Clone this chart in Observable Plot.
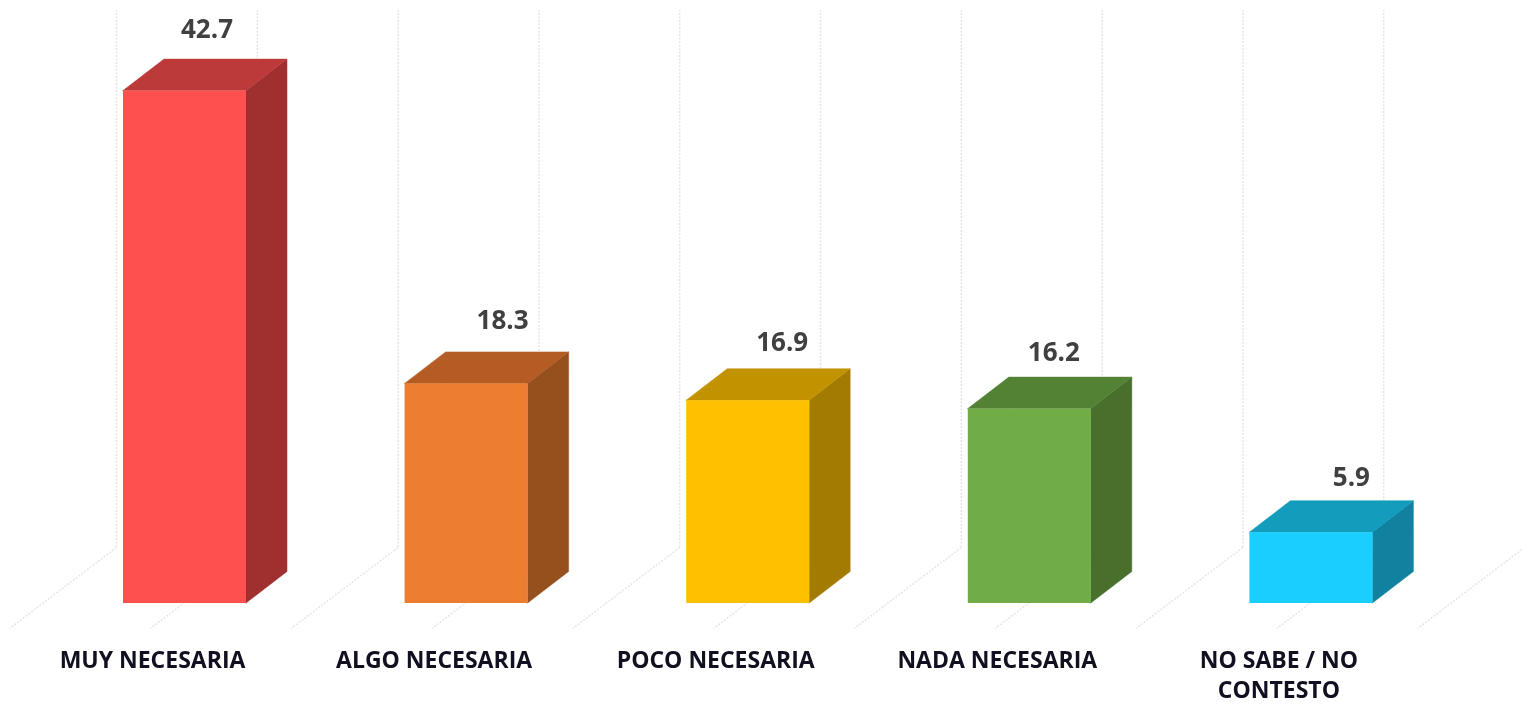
<!DOCTYPE html>
<html><head><meta charset="utf-8">
<script src="https://cdn.jsdelivr.net/npm/d3@7"></script>
<script src="https://cdn.jsdelivr.net/npm/@observablehq/plot@0.6"></script>
<style>html,body{margin:0;padding:0;background:#fff;overflow:hidden}svg{display:block;filter:blur(.5px)}</style>
</head><body><div id="chart"></div>
<script>
const categories = ["MUY NECESARIA","ALGO NECESARIA","POCO NECESARIA","NADA NECESARIA","NO SABE / NO\nCONTESTO"];
const values = [42.7,18.3,16.9,16.2,5.9];
const frontColors = ["#FF5050","#ED7D31","#FFC000","#70AD47","#19CFFF"];
const topColors = ["#BC3A3A","#B45C24","#C29200","#548235","#139CBC"];
const sideColors = ["#A03030","#95501E","#A37B00","#48702C","#10829F"];

// geometry: 1 x unit = 281.6px, 1 y unit = 12px
const W = 1522, H = 705, XU = 281.6, YU = 12;
const px = p => p / XU, py = p => p / YU;
const half = px(61.5), dX = px(41), dY = py(31.5);
const bars = values.map((v,i)=>({i,v,cat:categories[i],front:frontColors[i],top:topColors[i],side:sideColors[i]}));
const side = bars.flatMap(b=>[
  {b:b.i,x:b.i+half,y1:0,y2:b.v,fill:b.side},
  {b:b.i,x:b.i+half+dX,y1:dY,y2:b.v+dY,fill:b.side}]);
const topFace = bars.flatMap(b=>[
  {b:b.i,x:b.i-half,y1:b.v,y2:b.v,fill:b.top},
  {b:b.i,x:b.i-half+dX,y1:b.v,y2:b.v+dY,fill:b.top},
  {b:b.i,x:b.i+half,y1:b.v,y2:b.v+dY,fill:b.top},
  {b:b.i,x:b.i+half+dX,y1:b.v+dY,y2:b.v+dY,fill:b.top}]);
const grid = d3.range(0,11).map(k=>px(116-184.5)+k*px(140.8));
const yWallTop = py(603-10), yWallBottom = py(603-547), yFloor = py(603-628), floorDx = px(107);
const labelOffsets = [[22,-30],[36,-32],[34,-27],[24,-25],[40,-24]];
const dotted = {stroke:"#e6e6e6",strokeWidth:1.5,strokeDasharray:"2 1.5"};
const font = "'Open Sans',sans-serif";

const chart = Plot.plot({
  width:W,height:H,margin:0,
  x:{type:"linear",domain:[px(-184.5),px(W-184.5)],range:[0,W],axis:null},
  y:{type:"linear",domain:[py(603-H),py(603)],range:[H,0],axis:null},
  style:{background:"#fff",fontFamily:font},
  marks:[
    Plot.ruleX(grid,{x:d=>d,y1:yWallBottom,y2:yWallTop,...dotted}),
    Plot.link(grid,{x1:d=>d,y1:yWallBottom,x2:d=>d-floorDx,y2:yFloor,...dotted}),
    Plot.areaY(side,{x:"x",y1:"y1",y2:"y2",z:"b",fill:"fill",stroke:"fill",strokeWidth:0.5}),
    Plot.areaY(topFace,{x:"x",y1:"y1",y2:"y2",z:"b",fill:"fill",stroke:"fill",strokeWidth:0.5}),
    Plot.rect(bars,{x1:d=>d.i-half,x2:d=>d.i+half,y1:0,y2:"v",fill:"front"}),
    ...bars.map((b,i)=>Plot.text([b],{x:"i",y:d=>d.v+dY,text:d=>d.v.toFixed(1),
      dx:labelOffsets[i][0],dy:labelOffsets[i][1],fontSize:26,fontWeight:700,fill:"#404040"})),
    Plot.text(bars,{x:d=>d.i-px(32.5),y:py(603-662),dy:-16,text:"cat",fontSize:23,fontWeight:700,fill:"#101020",
      lineHeight:1.3,lineAnchor:"top"})
  ]
});
document.getElementById("chart").append(chart);
</script></body></html>
